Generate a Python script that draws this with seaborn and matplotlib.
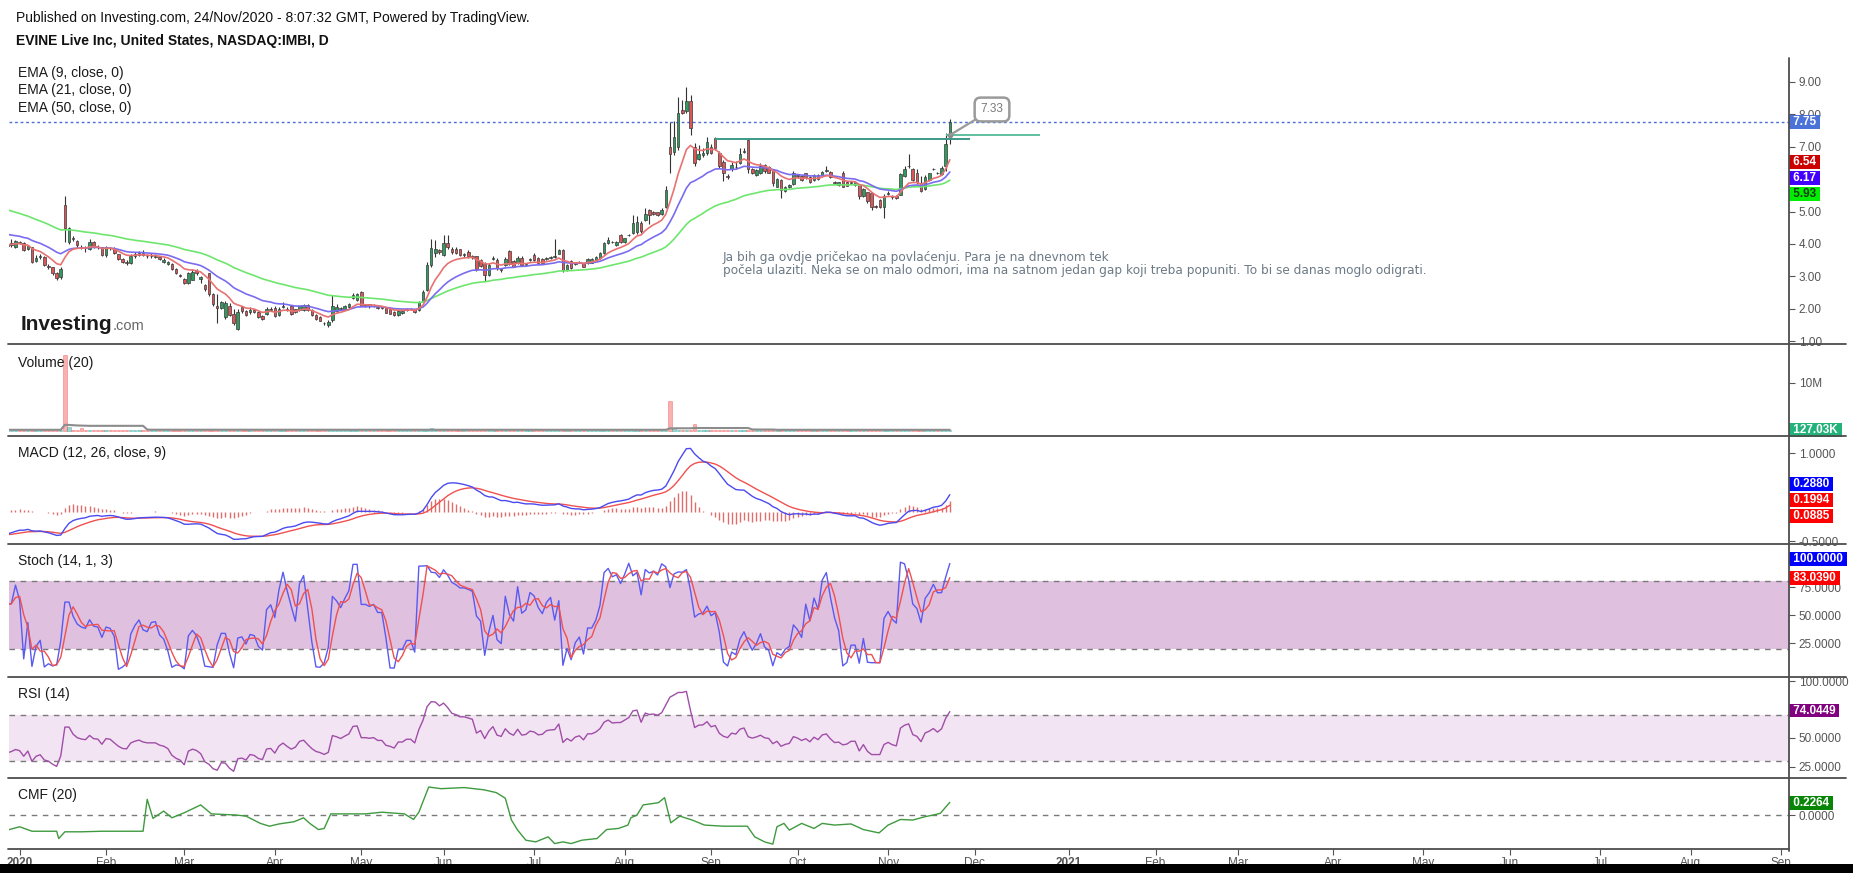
import numpy as np
import pandas as pd
import matplotlib
matplotlib.use("Agg")
import matplotlib.pyplot as plt
from matplotlib.lines import Line2D
from matplotlib.patches import Rectangle
import seaborn as sns

sns.set_theme(style="white")
plt.rcParams["font.family"] = ["Liberation Sans", "DejaVu Sans"]

# ---------------- data ----------------
pre_dates = ["2019-12-27", "2019-12-30", "2019-12-31"]
holidays_2020 = ["2020-01-01", "2020-01-20", "2020-02-17", "2020-04-10",
                 "2020-05-25", "2020-07-03", "2020-09-07"]
first_trading_day = "2020-01-02"
last_trading_day = "2020-11-23"
future_start = "2020-11-24"
future_end = "2021-09-30"

opens = [
    3.95, 3.98, 3.92,
    4.05, 4.02, 3.85, 3.90, 3.48, 3.60, 3.60, 3.32, 3.28, 3.12,
    2.98, 5.20, 4.07, 4.20, 4.10, 3.92, 3.88, 3.85, 4.05, 3.92,
    3.90, 3.66, 3.88, 3.86, 3.68, 3.55, 3.44, 3.40, 3.62, 3.66,
    3.72, 3.64, 3.62, 3.60, 3.60, 3.45, 3.38, 3.38, 3.22, 3.05,
    2.92, 2.80, 2.90, 3.18, 2.92, 2.72, 3.10, 2.45, 2.10, 2.02,
    1.75, 2.10, 1.85, 1.37, 2.05, 1.92, 1.90, 1.95, 1.90, 1.78,
    1.85, 1.95, 2.02, 1.80, 2.05, 2.00, 2.10, 1.98, 1.96, 1.96,
    2.12, 1.96, 1.82, 1.76, 1.56, 1.50, 1.65, 1.93, 2.00, 1.98,
    2.06, 2.32, 2.28, 2.53, 2.10, 2.14, 2.08, 2.06, 2.08, 2.04,
    2.00, 1.91, 1.81, 1.86, 1.95, 1.98, 1.98, 1.95, 2.24, 2.58,
    3.35, 3.72, 3.80, 3.66, 4.04, 3.86, 3.86, 3.84, 3.66, 3.76,
    3.63, 3.62, 3.50, 3.38, 3.05, 3.55, 3.52, 3.22, 3.35, 3.78,
    3.48, 3.40, 3.58, 3.36, 3.50, 3.67, 3.58, 3.55, 3.54, 3.58,
    3.60, 3.70, 3.82, 3.20, 3.48, 3.38, 3.43, 3.40, 3.40, 3.42,
    3.52, 3.56, 3.72, 4.02, 4.06, 3.98, 4.28, 4.07, 4.27, 4.33,
    4.37, 4.64, 4.74, 5.04, 4.98, 4.98, 4.92, 5.15, 6.98, 6.85,
    7.00, 8.14, 8.12, 8.41, 7.00, 6.62, 6.75, 6.80, 7.00, 7.26,
    6.82, 6.54, 6.10, 6.30, 6.38, 6.50, 6.85, 7.21, 6.30, 6.12,
    6.18, 6.44, 6.38, 6.28, 5.77, 5.97, 5.65, 5.77, 5.85, 6.12,
    6.10, 6.18, 6.06, 5.97, 6.12, 6.12, 6.26, 6.23, 5.90, 5.82,
    6.20, 5.92, 5.88, 5.82, 5.82, 5.47, 5.60, 5.56, 5.18, 5.36,
    5.15, 5.55, 5.45, 5.48, 5.52, 6.10, 6.40, 6.33, 6.18, 5.88,
    5.70, 5.97, 6.30, 6.20, 6.15, 6.41, 7.23,
]
highs = [
    4.10, 4.15, 4.12,
    4.10, 4.05, 3.98, 3.92, 3.65, 3.68, 3.62, 3.38, 3.30, 3.15,
    3.30, 5.48, 4.52, 4.25, 4.12, 3.98, 3.95, 4.15, 4.10, 3.96,
    3.92, 3.95, 3.92, 3.90, 3.70, 3.58, 3.50, 3.68, 3.75, 3.78,
    3.80, 3.70, 3.72, 3.70, 3.64, 3.56, 3.48, 3.40, 3.25, 3.08,
    2.95, 3.15, 3.22, 3.22, 3.00, 2.75, 3.12, 2.50, 2.45, 2.25,
    2.25, 2.18, 2.00, 1.98, 2.10, 1.95, 2.05, 2.00, 1.92, 1.82,
    2.05, 2.05, 2.08, 2.05, 2.20, 2.05, 2.12, 2.00, 2.10, 2.15,
    2.16, 1.98, 1.84, 1.78, 1.60, 1.64, 2.43, 2.15, 2.06, 2.12,
    2.18, 2.48, 2.50, 2.55, 2.14, 2.16, 2.14, 2.08, 2.10, 2.06,
    2.02, 1.93, 1.96, 1.95, 2.02, 2.02, 2.00, 2.25, 2.58, 3.45,
    4.15, 4.12, 3.85, 4.28, 4.28, 3.90, 3.90, 3.86, 3.72, 3.80,
    3.66, 3.64, 3.55, 3.45, 3.40, 3.62, 3.56, 3.26, 3.60, 3.82,
    3.52, 3.62, 3.62, 3.42, 3.58, 3.72, 3.60, 3.58, 3.60, 3.62,
    4.14, 3.86, 3.84, 3.38, 3.52, 3.42, 3.48, 3.42, 3.56, 3.56,
    3.64, 3.76, 4.06, 4.22, 4.10, 4.10, 4.32, 4.20, 4.30, 4.88,
    4.85, 4.70, 5.10, 5.08, 5.02, 5.00, 5.10, 5.80, 7.75, 7.80,
    8.55, 8.45, 8.84, 8.60, 7.12, 7.05, 6.95, 7.30, 7.10, 7.30,
    6.88, 6.60, 6.15, 6.52, 6.55, 6.95, 6.95, 7.28, 6.35, 6.32,
    6.50, 6.48, 6.42, 6.30, 6.05, 6.00, 5.80, 5.86, 6.25, 6.15,
    6.12, 6.20, 6.10, 6.15, 6.16, 6.26, 6.40, 6.26, 5.95, 5.92,
    6.24, 5.95, 5.95, 5.92, 5.85, 5.72, 5.62, 5.60, 5.20, 5.40,
    5.55, 5.65, 5.50, 5.50, 6.20, 6.40, 6.78, 6.36, 6.30, 6.10,
    6.12, 6.20, 6.36, 6.22, 6.40, 7.42, 7.85,
]
lows = [
    3.85, 3.90, 3.88,
    4.00, 3.78, 3.80, 3.42, 3.45, 3.55, 3.32, 3.22, 3.05, 2.88,
    2.92, 4.07, 4.00, 4.10, 3.92, 3.85, 3.75, 3.82, 3.88, 3.86,
    3.62, 3.60, 3.82, 3.68, 3.52, 3.40, 3.36, 3.38, 3.58, 3.64,
    3.62, 3.58, 3.58, 3.56, 3.52, 3.42, 3.35, 3.20, 3.06, 2.98,
    2.78, 2.78, 2.88, 3.05, 2.80, 2.55, 2.40, 2.10, 1.55, 1.98,
    1.70, 1.78, 1.50, 1.35, 1.88, 1.78, 1.85, 1.88, 1.72, 1.66,
    1.80, 1.92, 1.76, 1.78, 2.02, 1.94, 1.80, 1.88, 1.94, 1.94,
    1.94, 1.78, 1.66, 1.61, 1.50, 1.44, 1.60, 1.88, 1.96, 1.95,
    2.04, 2.30, 2.25, 2.08, 2.06, 2.04, 2.06, 2.00, 2.00, 1.86,
    1.83, 1.78, 1.79, 1.84, 1.94, 1.96, 1.88, 1.93, 2.20, 2.55,
    3.30, 3.60, 3.68, 3.62, 3.85, 3.70, 3.68, 3.62, 3.60, 3.58,
    3.55, 3.18, 3.28, 2.85, 3.00, 3.50, 3.20, 3.15, 3.32, 3.35,
    3.28, 3.38, 3.32, 3.34, 3.48, 3.46, 3.38, 3.40, 3.52, 3.55,
    3.56, 3.68, 3.15, 3.18, 3.22, 3.36, 3.42, 3.28, 3.38, 3.40,
    3.50, 3.54, 3.70, 4.00, 4.02, 3.95, 4.04, 4.04, 4.25, 4.30,
    4.30, 4.35, 4.70, 4.62, 4.90, 4.85, 4.90, 5.12, 6.20, 6.75,
    6.90, 8.00, 8.05, 7.36, 6.40, 6.58, 6.70, 6.75, 6.78, 6.90,
    6.35, 5.95, 6.02, 6.25, 6.30, 6.48, 6.80, 6.20, 6.15, 6.10,
    6.15, 6.20, 6.18, 5.80, 5.75, 5.41, 5.62, 5.74, 5.82, 6.05,
    5.95, 6.02, 5.88, 5.95, 5.98, 6.10, 6.22, 6.04, 5.85, 5.80,
    5.75, 5.78, 5.85, 5.80, 5.40, 5.45, 5.25, 5.05, 5.10, 5.12,
    4.79, 5.50, 5.40, 5.38, 5.50, 6.08, 6.35, 5.95, 5.85, 5.60,
    5.68, 5.95, 6.28, 6.15, 6.12, 6.25, 7.10,
]
closes = [
    4.00, 4.03, 4.08,
    4.04, 3.82, 3.94, 3.45, 3.58, 3.62, 3.35, 3.28, 3.10, 2.95,
    3.22, 4.48, 4.48, 4.15, 3.97, 3.90, 3.87, 4.07, 3.92, 3.90,
    3.66, 3.90, 3.87, 3.71, 3.55, 3.44, 3.42, 3.62, 3.68, 3.72,
    3.65, 3.62, 3.62, 3.62, 3.55, 3.52, 3.45, 3.22, 3.10, 3.02,
    2.80, 3.10, 3.15, 3.10, 2.98, 2.60, 2.45, 2.15, 2.02, 2.20,
    2.17, 1.82, 1.55, 1.90, 1.92, 1.80, 1.96, 1.91, 1.74, 1.68,
    1.98, 2.00, 1.78, 2.00, 2.10, 1.96, 1.84, 1.90, 2.08, 2.12,
    1.96, 1.80, 1.68, 1.63, 1.55, 1.60, 2.10, 2.06, 2.00, 2.08,
    2.15, 2.43, 2.45, 2.10, 2.10, 2.08, 2.10, 2.02, 2.02, 1.88,
    1.85, 1.80, 1.93, 1.93, 1.99, 1.99, 1.91, 2.22, 2.53, 3.35,
    3.87, 3.86, 3.76, 4.04, 3.92, 3.76, 3.72, 3.66, 3.66, 3.63,
    3.60, 3.22, 3.32, 3.05, 3.35, 3.56, 3.25, 3.20, 3.55, 3.38,
    3.30, 3.58, 3.35, 3.38, 3.53, 3.50, 3.40, 3.42, 3.56, 3.59,
    3.60, 3.82, 3.20, 3.35, 3.25, 3.40, 3.45, 3.30, 3.53, 3.53,
    3.60, 3.73, 4.02, 4.13, 4.05, 4.07, 4.07, 4.17, 4.28, 4.64,
    4.69, 4.40, 4.94, 4.90, 4.93, 4.90, 5.05, 5.67, 6.78, 7.30,
    8.03, 8.04, 8.41, 7.57, 6.51, 6.77, 6.80, 7.16, 6.82, 6.95,
    6.41, 6.18, 6.08, 6.44, 6.37, 6.77, 6.88, 6.30, 6.20, 6.28,
    6.40, 6.24, 6.20, 5.87, 6.00, 5.67, 5.77, 5.82, 6.18, 6.10,
    5.97, 6.06, 5.90, 6.12, 6.00, 6.23, 6.28, 6.06, 5.88, 5.90,
    5.77, 5.80, 5.90, 5.90, 5.47, 5.69, 5.34, 5.15, 5.15, 5.15,
    5.48, 5.56, 5.46, 5.41, 6.16, 6.33, 6.41, 5.98, 5.90, 5.65,
    6.08, 6.18, 6.33, 6.18, 6.36, 7.09, 7.75,
]

# volume: near-flat baseline with visible spikes (bar index, Jan 2 2020 = 0)
volume_base = 0.25e6
volume_spikes = {11: 15.8e6, 12: 0.9e6, 15: 0.6e6, 79: 0.5e6, 100: 0.6e6,
                 130: 0.5e6, 158: 6.2e6, 159: 0.6e6, 164: 1.4e6}
volume_last = 127.03e3

# indicator start values read at the left edge
ema_seeds = {9: 3.97, 21: 4.33, 50: 5.10}
macd_seeds = {"fast": 4.15, "slow": 4.54, "signal": -0.39}
rsi_seed_gain, rsi_seed_loss = 0.05, 0.085

# Chaikin money flow (bar index, value)
cmf_idx = [-3, 0, 3, 9, 9.5, 11, 15, 20, 25, 30, 31, 32.4, 35, 37, 40, 44, 46.6,
           52.5, 55, 58.5, 60.7, 63, 66.7, 69, 70.5, 72.6, 74, 75.6, 78.6, 84,
           88, 93.5, 95.7, 97, 99.4, 102.4, 108, 112.8, 115.8, 118, 119.5, 121,
           123, 125.4, 128.4, 130, 132, 134, 136.6, 140.3, 142.6, 145.5, 147.8,
           148.5, 150, 151.5, 155.2, 156.7, 158.2, 160.4, 163.4, 166.4, 171,
           176.8, 178.6, 181, 183, 184, 185.7, 187, 190, 193, 195, 198, 202,
           205, 208.8, 211, 214, 217, 220, 222, 223.7, 226]
cmf_vals = [-0.27, -0.21, -0.29, -0.29, -0.42, -0.30, -0.30, -0.29, -0.29, -0.29,
            0.28, -0.06, 0.07, -0.05, 0.04, 0.18, 0.02, 0.0, -0.02, -0.15, -0.20,
            -0.16, -0.12, -0.05, -0.15, -0.26, -0.24, 0.02, 0.02, 0.02, 0.05,
            0.02, -0.08, 0.05, 0.50, 0.47, 0.49, 0.45, 0.40, 0.30, -0.09, -0.27,
            -0.45, -0.48, -0.39, -0.51, -0.48, -0.51, -0.45, -0.42, -0.26, -0.24,
            -0.18, -0.05, 0.0, 0.18, 0.22, 0.31, -0.14, -0.02, -0.09, -0.18,
            -0.20, -0.20, -0.39, -0.48, -0.52, -0.21, -0.15, -0.27, -0.15, -0.24,
            -0.15, -0.18, -0.16, -0.26, -0.32, -0.18, -0.08, -0.09, -0.03, 0.0,
            0.03, 0.2264]

# tags on the right axis (text as shown)
price_tags = ["7.75", "6.54", "6.17", "5.93"]
volume_tag = "127.03K"
macd_tags = ["0.2880", "0.1994", "0.0885"]
stoch_tags = ["100.0000", "83.0390"]
rsi_tag = "74.0449"
cmf_tag = "0.2264"

# visible right-axis tick values per pane
price_ticks = [1, 2, 3, 4, 5, 7, 8, 9]

resistance_level = 7.24
resistance_bars = (169, 231)
callout_level = 7.36
callout_bars = (225, 248)
callout_text = "7.33"

x_tick_labels = ["2020", "Feb", "Mar", "Apr", "May", "Jun", "Jul", "Aug", "Sep",
                 "Oct", "Nov", "Dec", "2021", "Feb", "Mar", "Apr", "May", "Jun",
                 "Jul", "Aug", "Sep"]

header_line1 = "Published on Investing.com, 24/Nov/2020 - 8:07:32 GMT, Powered by TradingView."
header_line2 = "EVINE Live Inc, United States, NASDAQ:IMBI, D"
ema_labels = ["EMA (9, close, 0)", "EMA (21, close, 0)", "EMA (50, close, 0)"]
pane_titles = ["Volume (20)", "MACD (12, 26, close, 9)", "Stoch (14, 1, 3)", "RSI (14)", "CMF (20)"]
note_text = ("Ja bih ga ovdje pričekao na povlaćenju. Para je na dnevnom tek\n"
             "počela ulaziti. Neka se on malo odmori, ima na satnom jedan gap koji treba popuniti. To bi se danas moglo odigrati.")

# ---------------- derived series ----------------
past = list(pd.to_datetime(pre_dates)) + list(pd.bdate_range(first_trading_day, last_trading_day,
                                                              freq="C", holidays=holidays_2020))
future = list(pd.bdate_range(future_start, future_end))
all_dates = pd.DatetimeIndex(past + future)
OFF = len(pre_dates)

n = min(len(opens), len(highs), len(lows), len(closes))
o = np.array(opens[:n]); h = np.array(highs[:n]); l = np.array(lows[:n]); c = np.array(closes[:n])
x = np.arange(n)
up = c >= o


def ema(vals, span, seed):
    a = 2.0 / (span + 1)
    out = np.empty(len(vals))
    prev = seed
    for i, v in enumerate(vals):
        prev = prev + a * (v - prev)
        out[i] = prev
    return out


ema9 = ema(c, 9, ema_seeds[9])
ema21 = ema(c, 21, ema_seeds[21])
ema50 = ema(c, 50, ema_seeds[50])

macd = ema(c, 12, macd_seeds["fast"]) - ema(c, 26, macd_seeds["slow"])
signal = ema(macd, 9, macd_seeds["signal"])
hist = macd - signal

rsi = np.empty(n)
ag, al = rsi_seed_gain, rsi_seed_loss
rsi[0] = 100 - 100 / (1 + ag / al)
for i in range(1, n):
    d = c[i] - c[i - 1]
    ag = (ag * 13 + max(d, 0)) / 14
    al = (al * 13 + max(-d, 0)) / 14
    rsi[i] = 100 - 100 / (1 + ag / al)

k = np.empty(n)
for i in range(n):
    lo = l[max(0, i - 13):i + 1].min()
    hi = h[max(0, i - 13):i + 1].max()
    k[i] = 100 * (c[i] - lo) / (hi - lo) if hi > lo else 50
d_line = pd.Series(k).rolling(3, min_periods=1).mean().values

volume = np.array([volume_spikes.get(i - OFF, volume_base) for i in range(n)])
volume[-1] = volume_last
vol_ma = pd.Series(volume).rolling(20, min_periods=1).mean().values

months = all_dates.to_period("M")
tick_pos = [i for i in range(1, len(all_dates)) if months[i] != months[i - 1]]
tick_pos = tick_pos[:len(x_tick_labels)]

# ---------------- layout (pixels of the reference) ----------------
W, H = 1853, 873
L, R = 9, 1789
fig = plt.figure(figsize=(W / 100, H / 100), dpi=100)
fig.patch.set_facecolor("white")


def fx(px):
    return px / W


def fy(py):
    return 1 - py / H


def xpos(px):
    return (px - 19.6) / 4.116 + OFF


panes = {"price": (58, 344), "vol": (344, 436), "macd": (436, 544),
         "stoch": (544, 677), "rsi": (677, 778), "cmf": (778, 849)}
scales = {
    "price": lambda py: 9 - (py - 82) / 32.4,
    "vol": lambda py: (431 - py) * 0.2083e6,
    "macd": lambda py: (512 - py) / 58.7,
    "stoch": lambda py: 50 - (py - 615) / 1.12,
    "rsi": lambda py: 50 - (py - 738) / 1.14,
    "cmf": lambda py: (815 - py) / 56.0,
}
axes = {}
for name, (top, bot) in panes.items():
    ax = fig.add_axes([fx(L), fy(bot), fx(R - L), (bot - top) / H])
    ax.set_facecolor("none")
    ax.set_xlim(xpos(L), xpos(R))
    ax.set_ylim(scales[name](bot), scales[name](top))
    for s in ax.spines.values():
        s.set_visible(False)
    ax.yaxis.tick_right()
    ax.tick_params(axis="y", direction="out", length=4, width=0.8, colors="#555555",
                   labelsize=8.5, pad=3, left=False, right=True)
    ax.set_xticks([])
    ax.grid(False)
    axes[name] = ax

TAG_FS = 8.5


def tag(ax, yv, text, bg, fg="white"):
    ax.annotate(" " + text + " ", xy=(1, yv), xycoords=("axes fraction", "data"),
                xytext=(1.0, 0), textcoords="offset pixels", ha="left", va="center",
                fontsize=TAG_FS, fontweight="bold", color=fg, zorder=20,
                annotation_clip=False,
                bbox=dict(boxstyle="square,pad=0.05", fc=bg, ec="none"))


# ---- price pane ----
ax = axes["price"]
green, red = "#2f9c5e", "#dd5656"
ax.vlines(x, l, h, color="#333333", lw=0.8, zorder=2)
ax.bar(x, np.maximum(np.abs(c - o), 0.02), bottom=np.minimum(o, c), width=0.62,
       color=np.where(up, green, red), edgecolor="#3a3a3a", linewidth=0.5, zorder=3)
sns.lineplot(x=x, y=ema50, ax=ax, color="#6ee66e", linewidth=1.2, zorder=4, legend=False)
sns.lineplot(x=x, y=ema21, ax=ax, color="#7a6cf0", linewidth=1.2, zorder=4, legend=False)
sns.lineplot(x=x, y=ema9, ax=ax, color="#e87272", linewidth=1.2, zorder=4, legend=False)
ax.axhline(c[-1], color="#4a6fd8", lw=1.0, ls=(0, (2, 2)), zorder=1)
ax.hlines(resistance_level, resistance_bars[0] + OFF, resistance_bars[1] + OFF,
          color="#3c9a88", lw=1.4, zorder=5)
ax.hlines(callout_level, callout_bars[0] + OFF, callout_bars[1] + OFF,
          color="#5fbf9f", lw=1.4, zorder=5)
ax.plot([callout_bars[0] + 1 + OFF], [callout_level], "o", ms=3, color="#8a8a8a", zorder=6)
ax.annotate(callout_text, xy=(callout_bars[0] + 1 + OFF, callout_level),
            xytext=(xpos(992), scales["price"](109.5)), textcoords="data",
            ha="center", va="center", fontsize=8.5, color="#7a7a7a", zorder=7,
            bbox=dict(boxstyle="round,pad=0.5", fc="white", ec="#9a9a9a", lw=1.8),
            arrowprops=dict(arrowstyle="-", color="#9a9a9a", lw=1.6, shrinkA=0, shrinkB=0))
ax.set_yticks(price_ticks)
ax.set_yticklabels([f"{v:.2f}" for v in price_ticks])
price_tag_rows = [122, 162, 178, 194]
price_tag_cols = [("#4a72d9", "white"), ("#cc0000", "white"), ("#4400ff", "white"), ("#00ee00", "#1a3a1a")]
for t, row, (bg, fg) in zip(price_tags, price_tag_rows, price_tag_cols):
    tag(ax, scales["price"](row), t, bg, fg)

# ---- volume pane ----
ax = axes["vol"]
vcol = np.where(up, "#26a69a", "#ef5350")
ax.bar(x, volume, width=0.8, color=vcol, alpha=0.45, edgecolor=vcol, linewidth=0.6, zorder=2)
sns.lineplot(x=x, y=vol_ma, ax=ax, color="#8c8c8c", linewidth=1.5, zorder=3, legend=False)
ax.set_yticks([10e6])
ax.set_yticklabels(["10M"])
tag(ax, scales["vol"](430), volume_tag, "#22b27a")

# ---- MACD pane ----
ax = axes["macd"]
ax.vlines(x, 0, hist, color="#e06c6c", lw=1.0, zorder=2)
sns.lineplot(x=x, y=signal, ax=ax, color="#f05050", linewidth=1.0, zorder=3, legend=False)
sns.lineplot(x=x, y=macd, ax=ax, color="#4a4af0", linewidth=1.0, zorder=4, legend=False)
ax.set_yticks([-0.5, 1.0])
ax.set_yticklabels(["-0.5000", "1.0000"])
for t, row, bg in zip(macd_tags, [484, 500, 516], ["#0000ff", "#ff0000", "#ff0000"]):
    tag(ax, scales["macd"](row), t, bg)

# ---- Stoch pane ----
ax = axes["stoch"]
ax.axhspan(20, 80, color="#dfc0df", zorder=0, lw=0)
for lv in (20, 80):
    ax.axhline(lv, color="#7a7a7a", lw=1.0, ls=(0, (4, 4)), zorder=1)
sns.lineplot(x=x, y=k, ax=ax, color="#5a5af0", linewidth=1.0, zorder=3, legend=False)
sns.lineplot(x=x, y=d_line, ax=ax, color="#ef5050", linewidth=1.0, zorder=3, legend=False)
ax.set_yticks([25, 50, 75])
ax.set_yticklabels(["25.0000", "50.0000", "75.0000"])
tag(ax, 100, stoch_tags[0], "#0000ff")
tag(ax, scales["stoch"](578), stoch_tags[1], "#ff0000")

# ---- RSI pane ----
ax = axes["rsi"]
ax.axhspan(30, 70, color="#f2e4f2", zorder=0, lw=0)
for lv in (30, 70):
    ax.axhline(lv, color="#7a7a7a", lw=1.0, ls=(0, (4, 4)), zorder=1)
sns.lineplot(x=x, y=rsi, ax=ax, color="#a04ea8", linewidth=1.0, zorder=3, legend=False)
ax.set_yticks([25, 50, 100])
ax.set_yticklabels(["25.0000", "50.0000", "100.0000"])
tag(ax, 74.0449, rsi_tag, "#800080")

# ---- CMF pane ----
ax = axes["cmf"]
ax.axhline(0, color="#7a7a7a", lw=1.0, ls=(0, (4, 4)), zorder=1)
sns.lineplot(x=np.array(cmf_idx) + OFF, y=cmf_vals, ax=ax, color="#3f9a3f",
             linewidth=1.0, zorder=3, legend=False, sort=False)
ax.set_yticks([0])
ax.set_yticklabels(["0.0000"])
tag(ax, scales["cmf"](803), cmf_tag, "#078507")
ax.set_xticks(tick_pos)
ax.set_xticklabels(x_tick_labels)
ax.tick_params(axis="x", bottom=True, direction="out", length=4, width=0.8,
               colors="#555555", labelsize=8.5, pad=2)
for lab in ax.get_xticklabels():
    if lab.get_text() in ("2020", "2021"):
        lab.set_fontweight("bold")

# ---- frame lines ----
for row in (344, 436, 544, 677, 778):
    fig.add_artist(Line2D([fx(8), fx(1846)], [fy(row)] * 2, color="#4d4d4d", lw=1.3))
fig.add_artist(Line2D([fx(8), fx(R)], [fy(849)] * 2, color="#4d4d4d", lw=1.3))
fig.add_artist(Line2D([fx(R)] * 2, [fy(58), fy(851)], color="#4d4d4d", lw=1.3))
fig.add_artist(Rectangle((0, 0), 1, fy(864), transform=fig.transFigure,
                         facecolor="black", edgecolor="none"))

# ---- texts ----
fig.text(fx(16), fy(18), header_line1, fontsize=10, color="#111111", va="center", ha="left")
fig.text(fx(16), fy(41), header_line2, fontsize=10, color="#111111", va="center", ha="left",
         fontweight="bold")
for t, row in zip(ema_labels, [73, 90, 108]):
    fig.text(fx(18), fy(row), t, fontsize=10, color="#1a1a1a", va="center", ha="left")
for t, row in zip(pane_titles, [363, 453, 561, 694, 795]):
    fig.text(fx(18), fy(row), t, fontsize=10, color="#1a1a1a", va="center", ha="left")
logo = fig.text(fx(21), fy(330), "Investing", fontsize=15, fontweight="bold", color="#1b1b1b",
                va="baseline", ha="left")
renderer = fig.canvas.get_renderer()
lb = logo.get_window_extent(renderer)
fig.text(lb.x1 / W, fy(330), ".com", fontsize=10.5, color="#666666", va="baseline", ha="left")
fig.text(fx(723), fy(251), note_text, fontsize=8.7, color="#6c7a86", va="top", ha="left",
         family=["DejaVu Sans"], linespacing=0.98)

fig.savefig("out.png", dpi=100, facecolor="white")
